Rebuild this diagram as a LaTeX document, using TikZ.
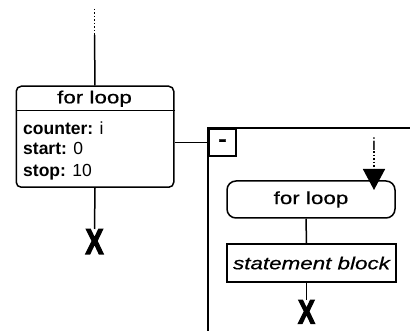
\documentclass[tikz,border=0pt]{standalone}
\usepackage{fontspec}
\setmainfont{Liberation Sans}
\newfontfamily\titlefont[FakeStretch=1.28,FakeBold=0.6]{Liberation Sans}
\newfontfamily\xfont[FakeStretch=0.75,FakeBold=3]{Liberation Sans Bold}
\newfontfamily\dashfont[FakeStretch=1.4,FakeBold=2]{Liberation Sans Bold}
\usetikzlibrary{arrows.meta}
\tikzset{
  ln/.style={line width=1.5pt},
  box/.style={draw, ln, inner sep=0pt},
  title/.style={font=\titlefont\fontsize{17.5}{20}\selectfont, inner sep=0pt},
  attr/.style={font=\fontsize{17.5}{21}\selectfont, inner sep=0pt, anchor=base west},
  endx/.style={font=\xfont\fontsize{36}{40}\selectfont, inner sep=0pt},
}
\begin{document}
\begin{tikzpicture}[x=1pt,y=-1pt]
\useasboundingbox (0,0) rectangle (410,331);
\clip (0,0) rectangle (410,331);
% left for-loop block
\node[box, rounded corners=5pt, minimum width=157.5pt, minimum height=101pt, anchor=north west] (lbox) at (15.5,85.5) {};
\node[title, anchor=base] (ltitle) at (94.5,103.3) {for loop};
\draw[ln] (lbox.west |- 0,110.5) -- (lbox.east |- 0,110.5);
\node[attr] (lc1) at (23,134.3) {\textbf{counter:} i};
\node[attr] (lc2) at (23,155) {\textbf{start:} 0};
\node[attr] (lc3) at (23,176.7) {\textbf{stop:} 10};
% top incoming line
\coordinate (topdot) at (94.5,9);
\coordinate (topsolid) at (94.5,35);
\draw[ln, dotted] (topdot) -- (topsolid);
\draw[ln] (topsolid) -- (lbox.north);
% left end X
\node[endx, anchor=north] (lx) at (94.5,229) {X};
\draw[ln] (lbox.south) -- (lx.north);
% container
\coordinate (ctl) at (208,128);
\draw[line width=2pt] (208,340) -- (ctl) -- (420,128);
\node[draw, line width=2pt, minimum width=27pt, minimum height=27pt, inner sep=0pt, anchor=north west, font=\dashfont\fontsize{18}{20}\selectfont] (minus) at (ctl) {-};
\draw[ln] (minus.west) -- (minus.west -| lbox.east);
% inner for loop
\node[box, rounded corners=9pt, minimum width=168pt, minimum height=37pt, title] (iloop) at (311,199.5) {for loop};
\node[draw, line width=2.2pt, minimum width=169pt, minimum height=38pt, title, font=\titlefont\itshape\fontsize{17.5}{20}\selectfont] (sblock) at (311.5,263) {statement block};
\draw[ln] ([xshift=-5pt]iloop.south) -- ([xshift=-5pt]sblock.north);
\node[endx, anchor=north, font=\xfont\fontsize{34}{38}\selectfont] (rx) at (306.5,300) {X};
\draw[ln] ([xshift=-5pt]sblock.south) -- (rx.north);
% i arrow
\node[font=\fontsize{17.5}{20}\selectfont, inner sep=0pt, anchor=base] (ilabel) at (374,151) {i};
\coordinate (atip) at (374,190);
\draw[ln, dotted, -{Triangle[width=22pt,length=21pt]}] (ilabel.south) -- (atip);
\end{tikzpicture}
\end{document}
